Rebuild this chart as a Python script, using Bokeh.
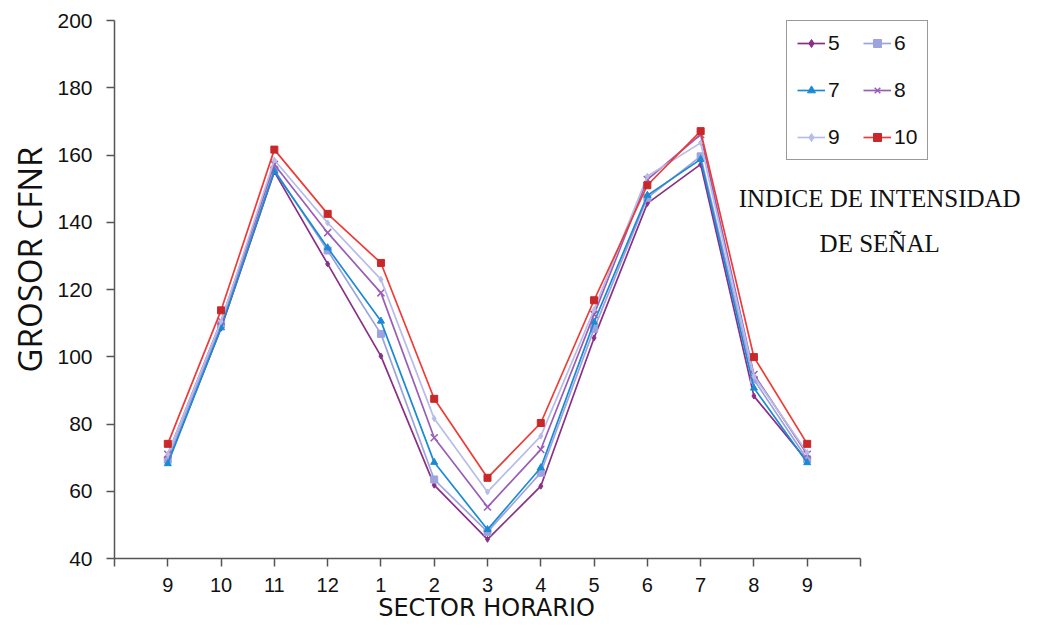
from bokeh.plotting import figure
from bokeh.models import FixedTicker, Range1d, Label, Legend, LegendItem
from bokeh.embed import file_html
from bokeh.resources import INLINE

# ---- data ----
sectors = ["9", "10", "11", "12", "1", "2", "3", "4", "5", "6", "7", "8", "9"]
series_names = ["5", "6", "7", "8", "9", "10"]
s5 = [68.8, 108.5, 155.0, 127.6, 100.2, 61.8, 45.7, 61.5, 105.6, 145.6, 157.2, 88.3, 69.0]
s6 = [69.4, 109.6, 155.6, 131.6, 106.8, 63.5, 47.9, 65.5, 108.3, 147.3, 159.6, 93.2, 69.5]
s7 = [68.2, 108.6, 155.2, 132.4, 110.6, 68.6, 48.6, 67.0, 110.3, 148.0, 158.7, 90.7, 68.5]
s8 = [71.0, 110.6, 157.2, 136.9, 119.0, 75.9, 55.3, 72.4, 112.6, 152.7, 166.1, 94.7, 71.0]
s9 = [71.0, 110.5, 158.5, 139.8, 123.0, 81.6, 59.8, 76.4, 114.0, 153.7, 163.6, 94.2, 71.5]
s10 = [74.1, 113.8, 161.6, 142.5, 127.9, 87.5, 64.0, 80.3, 116.8, 151.0, 167.1, 99.9, 74.1]
y_ticks = [40, 60, 80, 100, 120, 140, 160, 180, 200]
annotation = ["INDICE DE INTENSIDAD", "DE SEÑAL"]

values = [s5, s6, s7, s8, s9, s10]
line_colors = ["#8a2f86", "#9da3dc", "#1a8ad4", "#9a5db5", "#b8bce8", "#ee3b36"]
fill_colors = ["#8a2f86", "#9da3dc", "#1a8ad4", "#9a5db5", "#b8bce8", "#c8282a"]
markers = ["diamond", "square", "triangle", "x", "diamond", "square"]
sizes = [6, 7, 7, 10, 6, 7]

xs = list(range(1, len(sectors) + 1))
n_ticks_end = len(sectors) + 1

W, H = 1026, 626
left, top, bottom = 114, 20, 68
axis_px = 746  # width of the drawn x axis
x_end = n_ticks_end * (W - left) / axis_px

p = figure(width=W, height=H, output_backend="svg", toolbar_location=None,
           x_range=Range1d(0, x_end), y_range=Range1d(40, 200),
           min_border_left=left, min_border_right=0, min_border_top=top,
           min_border_bottom=bottom)
p.outline_line_color = None
p.grid.visible = False
p.background_fill_color = "white"
p.border_fill_color = "white"

items = []
for name, vals, lc, fc, mk, sz in zip(series_names, values, line_colors, fill_colors, markers, sizes):
    r1 = p.line(xs, vals, line_color=lc, line_width=1.7)
    r2 = p.scatter(xs, vals, marker=mk, size=sz, line_color=fc, fill_color=fc,
                   line_width=1.5 if mk == "x" else 1)
    items.append(LegendItem(label=name, renderers=[r1, r2]))

legend = Legend(items=items, location=(672, 398), orientation="horizontal", ncols=2,
                border_line_color="#333333", border_line_width=1.5,
                label_text_font="Liberation Sans", label_text_font_size="21px",
                label_text_color="#111111",
                glyph_width=28, glyph_height=20, label_height=20, label_width=12,
                label_standoff=3, spacing=23, padding=10, margin=0,
                background_fill_alpha=0)
p.add_layout(legend, "center")

# axes
p.xaxis.ticker = FixedTicker(ticks=list(range(0, n_ticks_end + 1)))
p.xaxis.bounds = (0, n_ticks_end)
overrides = {0: "", n_ticks_end: ""}
for i, s in enumerate(sectors):
    overrides[i + 1] = s
p.xaxis.major_label_overrides = overrides
p.yaxis.ticker = FixedTicker(ticks=y_ticks)

for ax in (p.xaxis[0], p.yaxis[0]):
    ax.axis_line_color = "#555555"
    ax.axis_line_width = 1.5
    ax.major_tick_line_color = "#555555"
    ax.major_tick_line_width = 1.5
    ax.major_tick_in = 0
    ax.major_tick_out = 8
    ax.minor_tick_line_color = None
    ax.major_label_text_font = "Liberation Sans"
    ax.major_label_text_color = "#111111"
    ax.axis_label_text_font_style = "normal"
    ax.axis_label_text_color = "#111111"

p.yaxis.major_label_text_font_size = "21px"
p.yaxis.major_label_standoff = 14
p.yaxis.axis_label = "\u00a0" * 7 + "GROSOR CFNR"
p.yaxis.axis_label_text_font = "Open Sans"
p.yaxis.axis_label_text_font_size = "33px"
p.yaxis.axis_label_standoff = 2

p.xaxis.major_label_text_font_size = "20px"
p.xaxis.major_label_standoff = 11
p.xaxis.axis_label = "SECTOR HORARIO" + "\u00a0" * 22
p.xaxis.axis_label_text_font = "DejaVu Sans"
p.xaxis.axis_label_text_font_size = "24px"
p.xaxis.axis_label_standoff = -1

for txt, yy in zip(annotation, (147.1, 133.7)):
    p.add_layout(Label(x=14.36, y=yy, text=txt, text_align="center", text_baseline="middle",
                       text_font="Liberation Serif", text_font_size="25px",
                       text_color="#111111"))

open("out.html", "w").write(file_html(p, INLINE))
